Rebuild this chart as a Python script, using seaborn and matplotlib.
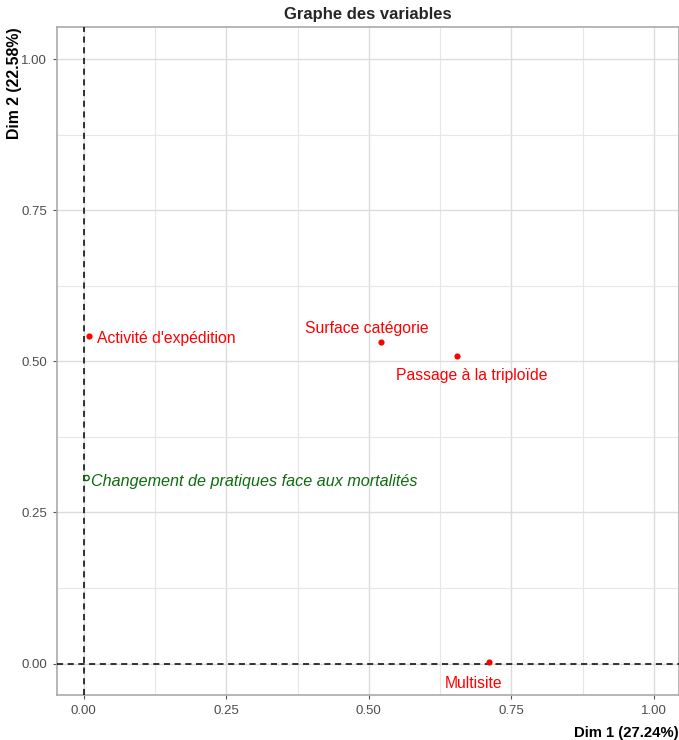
import matplotlib
matplotlib.use("Agg")
import matplotlib.pyplot as plt
import seaborn as sns
import pandas as pd
from matplotlib.ticker import MultipleLocator, FormatStrFormatter

# Coordinates of the variables on the first factorial plane
variables = ["Activité d'expédition", "Surface catégorie", "Passage à la triploïde",
             "Multisite", "Changement de pratiques face aux mortalités"]
dim1 = [0.009, 0.521, 0.654, 0.711, 0.005]
dim2 = [0.542, 0.532, 0.509, 0.003, 0.307]
kind = ["active", "active", "active", "active", "supplementary"]

df = pd.DataFrame({"variable": variables, "dim1": dim1, "dim2": dim2, "kind": kind})

sns.set_theme(style="white")
plt.rcParams["font.family"] = ["Liberation Sans", "DejaVu Sans"]

fig = plt.figure(figsize=(6.79, 7.40), dpi=100)
ax = fig.add_axes([0.0839, 0.0608, 0.9161, 0.9027])

red = "#FF0000"
green = "#0E6B0E"

active = df[df["kind"] == "active"]
supp = df[df["kind"] == "supplementary"]
sns.scatterplot(data=active, x="dim1", y="dim2", color=red, s=20, edgecolor=red,
                linewidth=0, ax=ax, zorder=4)
sns.scatterplot(data=supp, x="dim1", y="dim2", s=14, facecolor="none",
                edgecolor=green, linewidth=1.0, ax=ax, zorder=4)

ax.axhline(0, color="black", linestyle=(0, (4, 3)), linewidth=1.1, zorder=3)
ax.axvline(0, color="black", linestyle=(0, (4, 3)), linewidth=1.1, zorder=3)

# Label placement (offset in points, alignment, size)
offsets = {
    "Activité d'expédition": ((5.5, -1.5), "left", "center", 11.3),
    "Surface catégorie": ((-10, 4), "center", "bottom", 11.3),
    "Passage à la triploïde": ((11, -9), "center", "top", 11.3),
    "Multisite": ((-11, -10), "center", "top", 11.3),
    "Changement de pratiques face aux mortalités": ((3, -2.5), "left", "center", 11.6),
}
for _, r in df.iterrows():
    (dx, dy), ha, va, fs = offsets[r["variable"]]
    supplementary = r["kind"] == "supplementary"
    ax.annotate(r["variable"], (r["dim1"], r["dim2"]), xytext=(dx, dy),
                textcoords="offset points", ha=ha, va=va, fontsize=fs,
                color=green if supplementary else red,
                style="italic" if supplementary else "normal", zorder=5)

ax.set_xlim(-0.047, 1.044)
ax.set_ylim(-0.052, 1.053)
ax.xaxis.set_major_locator(MultipleLocator(0.25))
ax.yaxis.set_major_locator(MultipleLocator(0.25))
ax.xaxis.set_minor_locator(MultipleLocator(0.125))
ax.yaxis.set_minor_locator(MultipleLocator(0.125))
ax.xaxis.set_major_formatter(FormatStrFormatter("%.2f"))
ax.yaxis.set_major_formatter(FormatStrFormatter("%.2f"))
ax.grid(which="major", color="#DCDCDC", linewidth=1.0)
ax.grid(which="minor", color="#E6E6E6", linewidth=0.8)
ax.set_axisbelow(True)
ax.tick_params(axis="both", which="major", length=3, width=0.8, color="#555555",
               labelcolor="#4D4D4D", labelsize=9.5, pad=4, bottom=True, left=True)
ax.tick_params(axis="both", which="minor", length=0)
for s in ax.spines.values():
    s.set_color("#AAAAAA")
    s.set_linewidth(1.2)

ax.set_xlabel("Dim 1 (27.24%)", fontsize=10.7, fontweight="bold", color="black")
ax.set_ylabel("Dim 2 (22.58%)", fontsize=11.4, fontweight="bold", color="black")
ax.xaxis.set_label_coords(1.0, -0.047)
ax.xaxis.label.set_horizontalalignment("right")
ax.yaxis.set_label_coords(-0.056, 1.0)
ax.yaxis.label.set_horizontalalignment("right")
ax.set_title("Graphe des variables", fontsize=12, fontweight="bold", pad=6)

fig.savefig("out.png", dpi=100)
